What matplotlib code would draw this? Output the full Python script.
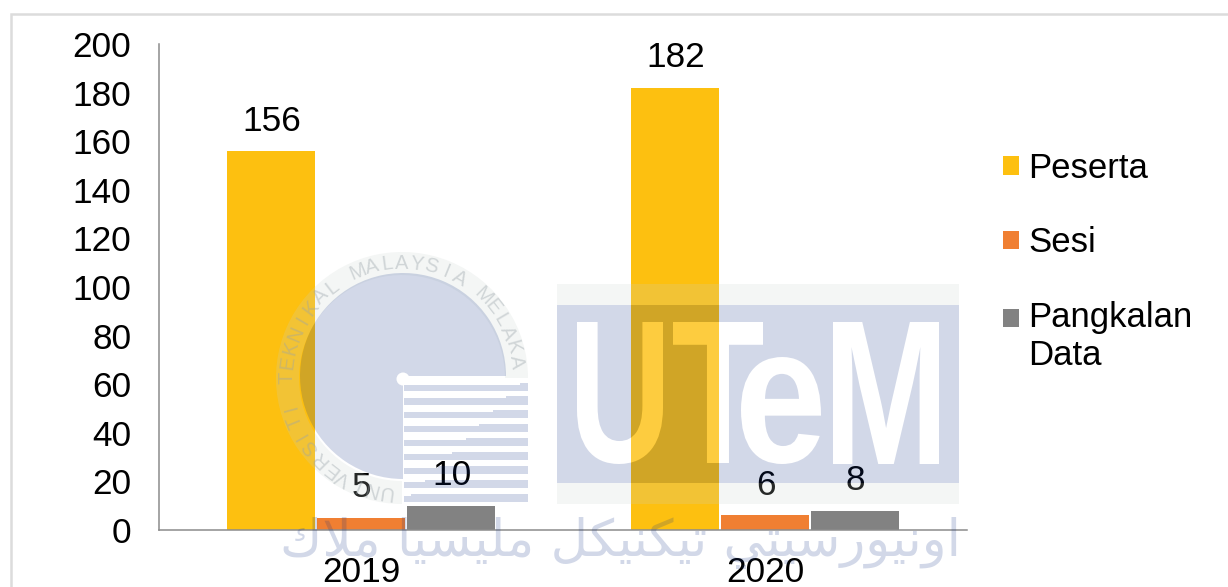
import matplotlib
matplotlib.use("Agg")
import numpy as np
import matplotlib.pyplot as plt
from matplotlib.patches import Patch, Rectangle, Wedge, Circle, PathPatch
from matplotlib.path import Path
from matplotlib.textpath import TextPath
from matplotlib.font_manager import FontProperties
from matplotlib.transforms import Affine2D

plt.rcParams['font.family'] = ['Liberation Sans', 'DejaVu Sans']

categories = ['2019', '2020']
peserta = [156, 182]
sesi = [5, 6]
pangkalan = [10, 8]
series_names = ['Peserta', 'Sesi', 'Pangkalan\nData']
y_ticks = list(range(0, 201, 20))
colors = ['#FDC010', '#F07F32', '#828282']

W, H = 1228, 587
FS = 25.4
fig = plt.figure(figsize=(W/100, H/100), dpi=100, facecolor='white')
ax = fig.add_axes([159/W, 1-530/H, (967-159)/W, (530-44)/H])
x = np.arange(len(categories))
bw = 0.2175
step = 0.2228
series = [peserta, sesi, pangkalan]
for i, (vals, c) in enumerate(zip(series, colors)):
    bars = ax.bar(x+(i-1)*step, vals, bw, color=c, label=series_names[i], zorder=2)
    for b, v in zip(bars, vals):
        ax.annotate(str(v), (b.get_x()+b.get_width()/2, v), xytext=(0.5, 21.5),
                    textcoords='offset points', ha='center', va='center',
                    fontsize=FS, color='black', zorder=6)
ax.set_xlim(-0.5, 1.5)
ax.set_ylim(0, 200)
ax.set_yticks(y_ticks)
ax.set_xticks(x, categories)
ax.tick_params(length=0, labelsize=FS, labelcolor='black')
ax.tick_params(axis='x', pad=19)
ax.tick_params(axis='y', pad=20)
for s in ('top', 'right'):
    ax.spines[s].set_visible(False)
for s in ('left', 'bottom'):
    ax.spines[s].set_color('#8c8c8c')
    ax.spines[s].set_linewidth(1.1)

handles = [Patch(facecolor=c) for c in colors]
leg = fig.legend(handles, series_names, loc='upper left', bbox_to_anchor=(1003/W, 1-152/H),
                 bbox_transform=fig.transFigure, frameon=False, fontsize=25,
                 handlelength=0.452, handleheight=0.452, handletextpad=0.28,
                 labelspacing=1.19, borderpad=0, borderaxespad=0, alignment='left')
# the last entry has two lines: its square sits beside the first line
last = leg.get_patches()[2]
last.set_y(last.get_y() + 19*0.72)

# overlay in pixel coordinates for the frame and the watermark
ov = fig.add_axes([0, 0, 1, 1], zorder=5)
ov.set_xlim(0, W); ov.set_ylim(H, 0); ov.axis('off'); ov.patch.set_alpha(0)
ov.plot([10.5, 10.5, W], [H, 13.5, 13.5], color='#dcdcdc', lw=1.8, solid_joinstyle='miter')

NAVY = '#123286'; NA = 0.19
PALE = '#c8d2cd'; PA = 0.2
cx, cy = 403, 378
fp = FontProperties(family='Liberation Sans', weight='bold')

# crest: pale ring and navy disc, with the lower right quarter left out
ov.add_patch(Wedge((cx-1, cy), 126, 90, 360, width=23, fc=PALE, alpha=PA, lw=0))
ov.add_patch(Wedge((cx, cy-2), 103, 90, 360, fc=NAVY, alpha=NA, lw=0))
ov.add_patch(Circle((cx, cy+1), 6.5, fc='white', lw=0))
for k in range(9):
    y0 = 384.5 + k*13.88
    sx = 520 - 13.6*k
    ov.add_patch(Rectangle((404, y0), 124, 6.2, fc=NAVY, alpha=NA, lw=0))
    ov.add_patch(Rectangle((sx, y0-2), 528-sx, 2, fc=NAVY, alpha=NA, lw=0))

crest_text = 'UNIVERSITI TEKNIKAL MALAYSIA MELAKA'
angs = np.linspace(262, 8, len(crest_text))
for ch, a in zip(crest_text, angs):
    r = np.deg2rad(a)
    px = cx - 1 + 115*np.cos(r); py = cy - 115*np.sin(r)
    ov.text(px, py, ch, fontsize=14.5, color='#9aa4aa', alpha=0.4, ha='center', va='center',
            rotation=a-90, rotation_mode='anchor')

# UTeM block: pale strips and navy band with the letters knocked out
ov.add_patch(Rectangle((557, 284), 402, 21, fc=PALE, alpha=PA, lw=0))
ov.add_patch(Rectangle((557, 483), 402, 21, fc=PALE, alpha=PA, lw=0))
letters = [('U', 577, 663, 322, 464), ('T', 673, 763, 322, 463),
           ('e', 741, 821, 357, 464), ('M', 833, 939, 322, 464)]
verts = [(557, 305), (557, 483), (959, 483), (959, 305), (557, 305)]
codes = [Path.MOVETO, Path.LINETO, Path.LINETO, Path.LINETO, Path.CLOSEPOLY]
band = Path(verts, codes)
paths = []
for ch, x0, x1, y0, y1 in letters:
    tp = TextPath((0, 0), ch, size=100, prop=fp)
    bb = tp.get_extents()
    tr = (Affine2D().translate(-bb.x0, -bb.y1)
          .scale((x1-x0)/bb.width, -(y1-y0)/bb.height).translate(x0, y0))
    paths.append(tr.transform_path(tp))
ov.add_patch(PathPatch(Path.make_compound_path(*paths), fc='white', alpha=0.2, lw=0))
ov.add_patch(PathPatch(Path.make_compound_path(band, *paths), fc=NAVY, alpha=NA, lw=0))

# Jawi line, shaped into presentation forms in visual order
jawi = ('\uFE8D\uFEED\uFEE7\uFEF4\uFEEE\uFEAD\uFEB3\uFEF4\uFE98\uFEF2 '
        '\uFE97\uFEF4\uFEDC\uFEE8\uFEF4\uFEDC\uFEDE '
        '\uFEE3\uFEE0\uFEF4\uFEB4\uFEF4\uFE8E '
        '\uFEE3\uFEFC\uFED9')[::-1]
ov.text(620, 556, jawi, family='DejaVu Sans', fontsize=37, color=NAVY, alpha=NA,
        ha='center', va='baseline', zorder=1)

fig.savefig('out.png', dpi=100)
